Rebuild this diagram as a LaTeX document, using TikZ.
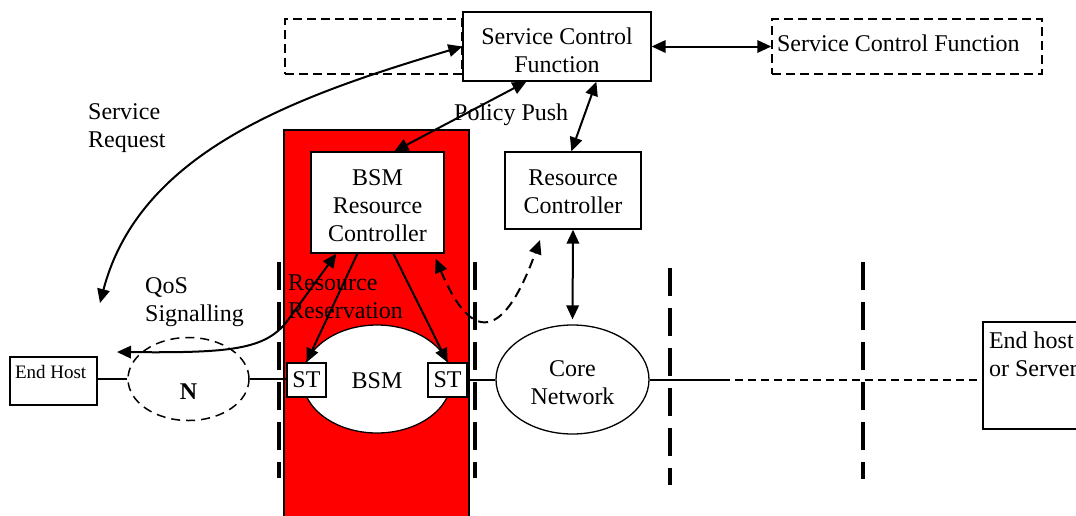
\documentclass[tikz,border=0pt]{standalone}
\usepackage{fontspec}
\setmainfont{Liberation Serif}
\usetikzlibrary{arrows.meta,shapes.geometric,calc}
\begin{document}
\begin{tikzpicture}[x=1pt,y=-1pt,
  every node/.style={font=\fontsize{24}{28}\selectfont, inner sep=0pt},
  box/.style={draw, line width=1.3pt, fill=white, align=flush center},
  dbox/.style={draw, line width=1.5pt, dash pattern=on 9pt off 5pt},
  ell/.style={ellipse, draw, fill=white, line width=1.3pt, align=flush center},
  conn/.style={line width=2pt, {Triangle[length=14pt,width=12.5pt]}-{Triangle[length=14pt,width=12.5pt]}},
  oneway/.style={line width=2pt, -{Triangle[length=14pt,width=12.5pt]}},
  bound/.style={line width=4pt, dash pattern=on 28pt off 12pt},
  link/.style={line width=2pt},
  txt/.style={align=flush left, anchor=north west},
]
\useasboundingbox (0,0) rectangle (1076,515);
\clip (0,0) rectangle (1076,515);

% BSM zone
\node[draw, fill=red, line width=1.3pt, minimum width=185pt, minimum height=400pt] (zone) at (376.5,330) {};

% domain boundaries
\draw[bound] (279,262) -- (279,478);
\draw[bound] (475,262) -- (475,478);
\draw[bound] (670,268) -- (670,485);
\draw[bound] (863,262) -- (863,479);

% top boxes
\node[dbox, minimum width=177pt, minimum height=55pt] (ldash) at (373.5,46.5) {};
\node[box, text width=176pt, inner xsep=6pt, text height=24pt, minimum height=69pt] (scf) at (557,46.5) {Service Control\\Function};
\node[dbox, text width=260pt, inner xsep=5pt, minimum height=55pt, align=flush left, text depth=7pt] (rdash) at (907,46.5) {Service Control Function};

% controllers
\node[box, text width=121pt, inner xsep=6pt, text height=22pt, minimum height=101pt] (bsmrc) at (377.5,202.5) {BSM\\Resource\\Controller};
\node[box, text width=124pt, inner xsep=6pt, text height=17.5pt, minimum height=77pt] (rc) at (573,190.5) {Resource\\Controller};

% network elements
\node[ell, text height=19pt, text depth=0pt, minimum width=149pt, minimum height=108pt] (bsm) at (377,379) {BSM};
\node[ell, text width=96pt, text height=22pt, minimum width=153pt, minimum height=109pt] (core) at (572.5,379.5) {Core\\Network};
\node[ellipse, draw, fill=white, line width=1.5pt, dash pattern=on 9pt off 6pt, minimum width=121pt, minimum height=83pt, text height=40pt, text depth=0pt, font=\fontsize{24}{28}\selectfont\bfseries] (n) at (188.5,379) {N};
\node[box, minimum width=39pt, minimum height=34pt] (stl) at (306.5,380) {ST};
\node[box, minimum width=39pt, minimum height=34pt] (str) at (447.5,380) {ST};
\node[box, align=flush left, font=\fontsize{19}{22}\selectfont, text width=77pt, inner xsep=5pt, inner ysep=3pt, text depth=19pt, minimum height=48pt] (eh) at (53.5,381) {End Host};
\node[box, align=flush left, text width=118pt, inner xsep=6pt, inner ysep=4pt, text height=16.4pt, text depth=71pt, minimum height=107pt] (ehs) at (1048,375.5) {End host\\or Server};

% data path
\coordinate (brk) at (722,379.5);
\draw[link] (eh.east |- n.west) -- (n.west);
\draw[link] (n.east) -- (stl.west |- n.east);
\draw[link] (str.east |- core.west) -- (core.west);
\draw[link] (core.east) -- (brk);
\draw[link, dash pattern=on 8pt off 5pt] (brk) -- (ehs.west |- brk);

% free ends and bends
\coordinate (sreq) at (100,303);
\coordinate (qbend) at (288,320);
\coordinate (qend) at (117,352);
\coordinate (rcd) at (540,240);

% signalling arrows
\draw[conn] (scf.west) .. controls (300,95) and (140,150) .. (sreq);
\draw[conn] ($(scf.south west)+(64,0)$) -- ($(bsmrc.north west)+(84,0)$);
\draw[conn] ($(scf.south west)+(134,0)$) -- ($(rc.north west)+(67,0)$);
\draw[conn] (scf.east) -- (rdash.west);
\draw[conn, shorten >=5pt] (rc.south) -- (core.north);
\draw[conn] ($(bsmrc.south west)+(26,0)$) -- (qbend) .. controls (266,350) and (230,353) .. (qend);
\draw[oneway] ($(bsmrc.south west)+(47,0)$) -- (stl.north);
\draw[oneway] ($(bsmrc.south west)+(83,0)$) -- (str.north);
\draw[conn, dash pattern=on 10pt off 6pt] ($(bsmrc.south east)+(-9,5)$) .. controls (468,335) and (500,350) .. (rcd);

% labels
\node[txt] (sr) at (88,103) {Service\\Request};
\node[anchor=base west] (pp) at (454,120) {Policy Push};
\node[txt] (qos) at (145,277) {QoS\\Signalling};
\node[txt] (rr) at (288,275) {Resource\\Reservation};
\end{tikzpicture}
\end{document}
